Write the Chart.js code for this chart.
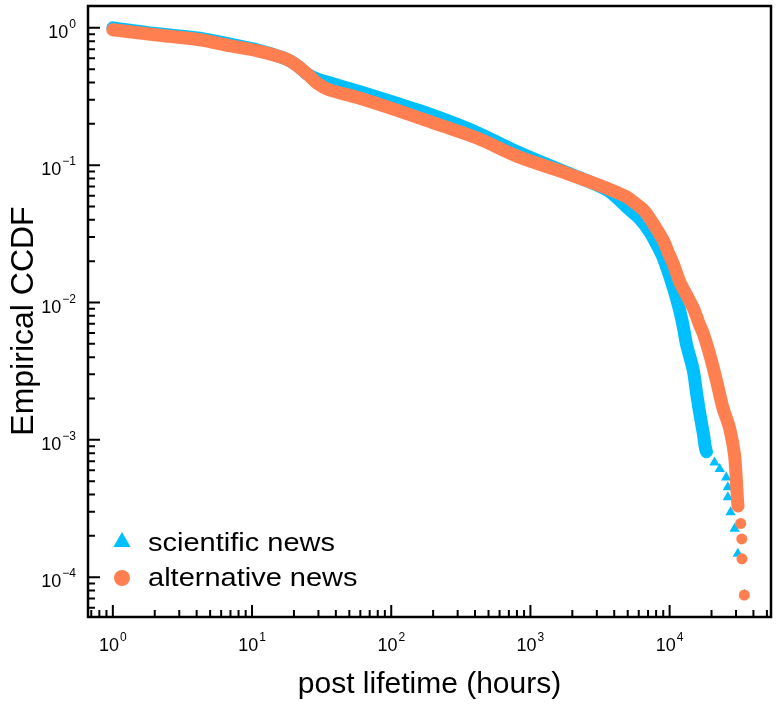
<!DOCTYPE html>
<html>
<head>
<meta charset="utf-8">
<script src="https://cdn.jsdelivr.net/npm/chart.js@4/dist/chart.umd.min.js"></script>
<style>
  html, body { margin: 0; padding: 0; background: #fff; }
</style>
</head>
<body>
<canvas id="chart" width="777" height="706"></canvas>
<script>
// scientific news: dense band first, then the single triangles of the tail
const sciHours = [1, 2, 4.2, 7, 11, 16.4, 19, 21.7, 25, 30, 35.5, 58, 112, 217, 418, 807, 1840, 3550,
  5180, 6200, 7200, 8000, 9060, 10700, 11800, 12600, 13200, 14800, 15600, 16400, 17500, 18400,
  21000, 22900, 25500, 26200, 26200, 27400, 29300, 30900, 34500];
const sciCcdf = [1.0, 0.91, 0.84, 0.76, 0.69, 0.61, 0.57, 0.52, 0.46, 0.42, 0.40, 0.345, 0.28, 0.224, 0.172, 0.125, 0.088, 0.066,
  0.0472, 0.040, 0.0327, 0.027, 0.0208, 0.0126, 0.0088, 0.0065, 0.0050, 0.0032, 0.0022, 0.0016, 0.0011, 0.00082,
  0.000685, 0.000613, 0.000533, 0.000451, 0.000382, 0.000297, 0.000225, 0.000148, 0.0000741];
const sciBandLen = 32;

// alternative news
const altHours = [1, 2, 4.2, 7, 11, 16.4, 19, 21.7, 25, 30, 35.5, 58, 112, 217, 418, 807, 1840, 3550,
  4930, 5500, 6520, 7200, 7690, 8400, 9060, 9800, 10700, 11800, 13200, 14800, 16400, 17500, 19400, 21700, 24200, 26900,
  29200, 30200, 31000, 32400, 33000, 33100, 34400];
const altCcdf = [0.97, 0.89, 0.82, 0.74, 0.68, 0.61, 0.57, 0.52, 0.46, 0.39, 0.355, 0.31, 0.25, 0.198, 0.157, 0.116, 0.087, 0.068,
  0.0586, 0.054, 0.047, 0.041, 0.037, 0.032, 0.028, 0.023, 0.0188, 0.0142, 0.0114, 0.0091, 0.0069, 0.0059, 0.0042, 0.0027, 0.0017, 0.00123,
  0.00079, 0.0005, 0.00033, 0.000246, 0.00019, 0.000136, 0.0000742];
const altBandLen = 39;

const seriesLabels = ['scientific news', 'alternative news'];
const xTicks = [1, 10, 100, 1000, 10000];
const yTicks = [1, 0.1, 0.01, 0.001, 0.0001];
const xRange = [0.663, 53500];
const yRange = [5.13e-5, 1.443];

const FONT = '"Liberation Sans", Arial, Helvetica, sans-serif';

function series(label, hours, ccdf, bandLen, color, style, radius, order) {
  return {
    label, order,
    data: hours.map((h, i) => ({ x: h, y: ccdf[i] })),
    borderColor: color,
    backgroundColor: color,
    borderWidth: 13,
    borderCapStyle: 'round',
    borderJoinStyle: 'round',
    tension: 0.3,
    pointStyle: style,
    pointRadius: radius,
    pointBorderWidth: 0,
    // past the band the points are single markers, no line between them
    segment: { borderColor: c => (c.p1DataIndex >= bandLen ? 'rgba(0,0,0,0)' : undefined) },
  };
}

// every integer multiple of a power of ten inside [min, max]
function logTicks(min, max) {
  const out = [];
  for (let e = Math.floor(Math.log10(min)); e <= Math.ceil(Math.log10(max)); e++) {
    for (let k = 1; k <= 9; k++) {
      const v = k * Math.pow(10, e);
      if (v >= min && v <= max) out.push([v, k === 1]);
    }
  }
  return out;
}

function drawPow(ctx, v, x, y, align) {
  const exp = Math.round(Math.log10(v));
  const sup = exp < 0 ? '\u2212' + (-exp) : String(exp);
  ctx.font = '18px ' + FONT;
  const wb = ctx.measureText('10').width;
  ctx.font = '12px ' + FONT;
  const ws = ctx.measureText(sup).width;
  const total = wb + 1 + ws;
  const left = align === 'right' ? x - total : x - total / 2;
  ctx.textAlign = 'left';
  ctx.textBaseline = 'alphabetic';
  ctx.font = '18px ' + FONT;
  ctx.fillText('10', left, y);
  ctx.font = '12px ' + FONT;
  ctx.fillText(sup, left + wb + 1, y - 10);
}

const decorations = {
  id: 'decorations',
  afterDraw(chart) {
    const { ctx, chartArea: a } = chart;
    const xs = chart.scales.x, ys = chart.scales.y;
    ctx.save();
    ctx.strokeStyle = '#000';
    ctx.fillStyle = '#000';

    // inward ticks on the bottom and left axes
    ctx.lineWidth = 2;
    ctx.beginPath();
    logTicks(xs.min, xs.max).forEach(([v, major]) => {
      const px = xs.getPixelForValue(v);
      ctx.moveTo(px, a.bottom);
      ctx.lineTo(px, a.bottom - (major ? 12 : 7));
    });
    logTicks(ys.min, ys.max).forEach(([v, major]) => {
      const py = ys.getPixelForValue(v);
      ctx.moveTo(a.left, py);
      ctx.lineTo(a.left + (major ? 12 : 7), py);
    });
    ctx.stroke();

    ctx.lineWidth = 2.5;
    ctx.strokeRect(a.left, a.top, a.right - a.left, a.bottom - a.top);

    xTicks.forEach(v => drawPow(ctx, v, xs.getPixelForValue(v), a.bottom + 34, 'center'));
    yTicks.forEach(v => drawPow(ctx, v, a.left - 12, ys.getPixelForValue(v) + 10, 'right'));

    // axis titles
    ctx.textAlign = 'center';
    ctx.textBaseline = 'alphabetic';
    ctx.font = '30px ' + FONT;
    ctx.fillText('post lifetime (hours)', (a.left + a.right) / 2, 693);
    ctx.save();
    ctx.translate(33, 321);
    ctx.rotate(-Math.PI / 2);
    ctx.font = '32px ' + FONT;
    ctx.fillText('Empirical CCDF', 0, 0);
    ctx.restore();

    // legend in the lower left of the plot
    const rows = [
      { ds: chart.data.datasets[0], y: 542, r: 10, base: 551 },
      { ds: chart.data.datasets[1], y: 578, r: 8, base: 586 },
    ];
    rows.forEach(row => {
      ctx.fillStyle = row.ds.backgroundColor;
      Chart.helpers.drawPoint(ctx, { pointStyle: row.ds.pointStyle, radius: row.r, rotation: 0, borderWidth: 0 }, 122, row.y);
      ctx.fillStyle = '#000';
      ctx.save();
      ctx.translate(148, row.base);
      ctx.scale(1.16, 1);
      ctx.textAlign = 'left';
      ctx.font = '25px ' + FONT;
      ctx.fillText(row.ds.label, 0, 0);
      ctx.restore();
    });
    ctx.restore();
  }
};

new Chart(document.getElementById('chart'), {
  type: 'line',
  data: {
    datasets: [
      series(seriesLabels[0], sciHours, sciCcdf, sciBandLen, '#00BFFF', 'triangle', 6, 1),
      series(seriesLabels[1], altHours, altCcdf, altBandLen, '#FF7F50', 'circle', 5.5, 0),
    ],
  },
  options: {
    responsive: false,
    animation: false,
    layout: { padding: { top: 3, right: 2, left: 0, bottom: 0 } },
    plugins: { legend: { display: false }, tooltip: { enabled: false } },
    scales: {
      x: {
        type: 'logarithmic', min: xRange[0], max: xRange[1],
        ticks: { display: false }, grid: { display: false }, border: { display: false },
        afterFit: s => { s.height = 89; },
      },
      y: {
        type: 'logarithmic', min: yRange[0], max: yRange[1],
        ticks: { display: false }, grid: { display: false }, border: { display: false },
        afterFit: s => { s.width = 88; },
      },
    },
  },
  plugins: [decorations],
});
</script>
</body>
</html>
